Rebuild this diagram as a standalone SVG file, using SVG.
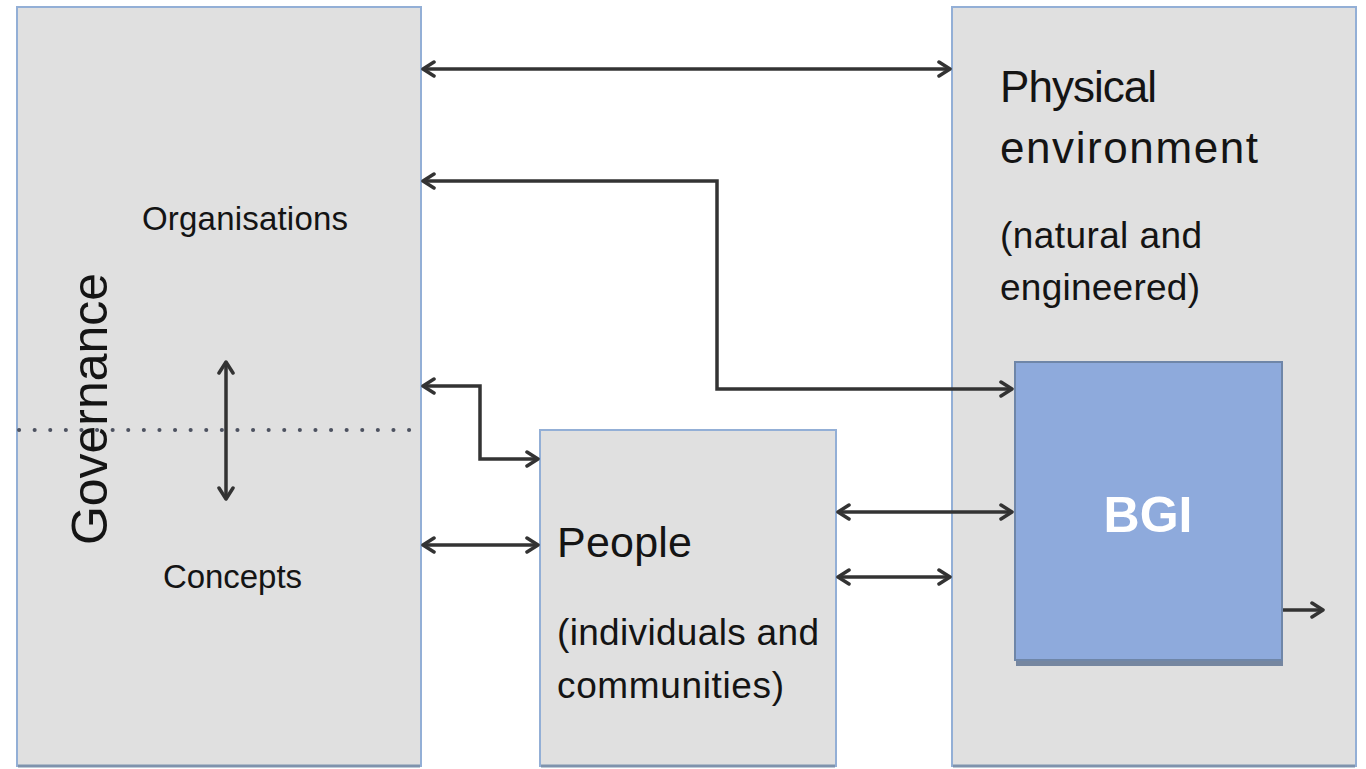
<svg xmlns="http://www.w3.org/2000/svg" width="1366" height="769" viewBox="0 0 1366 769">
  <style>
    .box { fill: #e0e0e0; stroke: #93afd6; stroke-width: 2; }
    .shadow { fill: none; stroke: #7f93ad; stroke-width: 3; }
    .bgi { fill: #8eaadc; stroke: #6f86a8; stroke-width: 2; }
    .t { font-family: "Liberation Sans", Arial, sans-serif; fill: #141414; }
    .c { fill: none; stroke: #333333; stroke-width: 3.5; }
    .dot { fill: none; stroke: #4d5260; stroke-width: 4; stroke-dasharray: 0.1 15.5; stroke-linecap: round; }
  </style>
  <defs>
    <marker id="ah" viewBox="0 0 18 18" markerWidth="18" markerHeight="18" refX="15" refY="9" orient="auto-start-reverse" markerUnits="userSpaceOnUse">
      <path d="M4,2 L15,9 L4,16" fill="none" stroke="#333333" stroke-width="3.5" stroke-linecap="round" stroke-linejoin="round"/>
    </marker>
  </defs>
  <rect width="1366" height="769" fill="#ffffff"/>

  <g id="governance">
    <rect class="box" x="17" y="7" width="404" height="759"/>
    <line class="shadow" x1="18" y1="766" x2="420" y2="766"/>
    <line class="dot" x1="19" y1="430" x2="419" y2="430"/>
    <text class="t" transform="translate(107,545) rotate(-90)" font-size="50" textLength="272">Governance</text>
    <text class="t" x="142" y="230" font-size="33" textLength="206">Organisations</text>
    <text class="t" x="163" y="588" font-size="33" textLength="139">Concepts</text>
  </g>

  <g id="people">
    <rect class="box" x="540" y="430" width="296" height="336"/>
    <line class="shadow" x1="541" y1="766" x2="835" y2="766"/>
    <text class="t" x="557" y="557" font-size="43" textLength="135">People</text>
    <text class="t" x="557" y="645" font-size="37" textLength="262">(individuals and</text>
    <text class="t" x="557" y="698" font-size="37" textLength="227">communities)</text>
  </g>

  <g id="physical">
    <rect class="box" x="952" y="7" width="404" height="759"/>
    <line class="shadow" x1="953" y1="766" x2="1355" y2="766"/>
    <text class="t" x="1000" y="102" font-size="44" textLength="157">Physical</text>
    <text class="t" x="1000" y="163" font-size="44" textLength="258">environment</text>
    <text class="t" x="1000" y="248" font-size="37" textLength="202">(natural and</text>
    <text class="t" x="1000" y="300" font-size="37" textLength="200">engineered)</text>
  </g>

  <g id="bgi">
    <rect x="1016" y="366" width="267" height="300" fill="#7586a0"/>
    <rect class="bgi" x="1015" y="362" width="267" height="298"/>
    <text x="1148" y="532" font-family="Liberation Sans, Arial, sans-serif" font-weight="bold" font-size="50" fill="#ffffff" text-anchor="middle">BGI</text>
  </g>

  <g id="connectors">
    <line class="c" x1="423" y1="69" x2="950" y2="69" marker-start="url(#ah)" marker-end="url(#ah)"/>
    <polyline class="c" points="423,181 717,181 717,389 1012,389" marker-start="url(#ah)" marker-end="url(#ah)"/>
    <polyline class="c" points="423,386 480,386 480,459 538,459" marker-start="url(#ah)" marker-end="url(#ah)"/>
    <line class="c" x1="226" y1="362" x2="226" y2="499" marker-start="url(#ah)" marker-end="url(#ah)"/>
    <line class="c" x1="423" y1="545" x2="538" y2="545" marker-start="url(#ah)" marker-end="url(#ah)"/>
    <line class="c" x1="838" y1="512" x2="1012" y2="512" marker-start="url(#ah)" marker-end="url(#ah)"/>
    <line class="c" x1="838" y1="577" x2="950" y2="577" marker-start="url(#ah)" marker-end="url(#ah)"/>
    <line class="c" x1="1283" y1="610" x2="1323" y2="610" marker-end="url(#ah)"/>
  </g>
</svg>
